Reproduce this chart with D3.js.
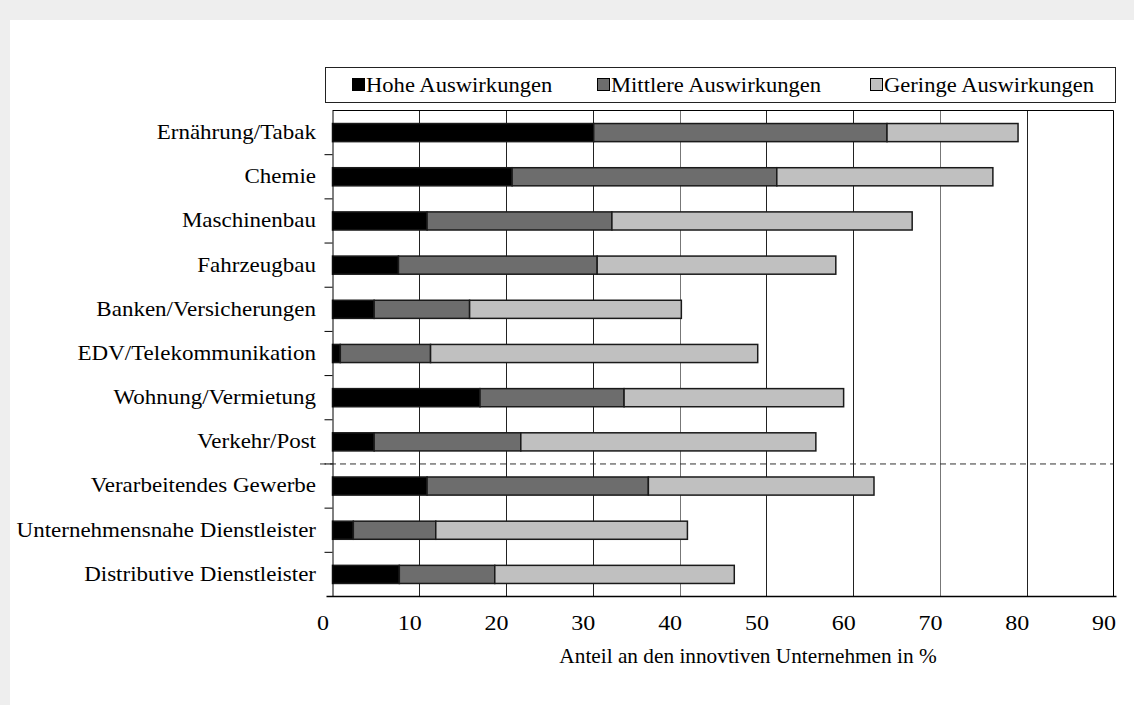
<!DOCTYPE html>
<html>
<head>
<meta charset="utf-8">
<script src="https://cdn.jsdelivr.net/npm/d3@7"></script>
<style>
  html, body { margin: 0; padding: 0; background: #eeeeee; }
  svg { display: block; }
  text { font-family: "Liberation Serif", "Times New Roman", serif; fill: #000; }
</style>
</head>
<body>
<svg id="chart" width="1134" height="705"></svg>
<script>
const categories = [
  "Ernährung/Tabak", "Chemie", "Maschinenbau", "Fahrzeugbau",
  "Banken/Versicherungen", "EDV/Telekommunikation", "Wohnung/Vermietung",
  "Verkehr/Post", "Verarbeitendes Gewerbe", "Unternehmensnahe Dienstleister",
  "Distributive Dienstleister"
];
const seriesNames = ["Hohe Auswirkungen", "Mittlere Auswirkungen", "Geringe Auswirkungen"];
const hohe     = [30.1, 20.7, 10.9, 7.6, 4.8, 0.9, 17.0, 4.8, 10.9, 2.4, 7.7];
const mittlere = [33.8, 30.5, 21.3, 22.9, 11.0, 10.4, 16.6, 16.9, 25.5, 9.5, 11.0];
const geringe  = [15.1, 24.9, 34.6, 27.5, 24.4, 37.7, 25.3, 34.0, 26.0, 29.0, 27.6];
const xTicks = [0, 10, 20, 30, 40, 50, 60, 70, 80, 90];
const xTitle = "Anteil an den innovtiven Unternehmen in %";
const colors = ["#000000", "#6d6d6d", "#c0c0c0"];

(function () {
const svg = d3.select("#chart");
svg.append("rect").attr("x", 10).attr("y", 20).attr("width", 1124).attr("height", 685).attr("fill", "#fff");

const pLeft = 332.5, pRight = 1113.5, pTop = 110.5, pBottom = 596.5;
const x = d3.scaleLinear().domain([0, 90]).range([pLeft, pRight]);
const y = d3.scaleBand().domain(categories).range([pTop, pBottom]).paddingInner(0.59).paddingOuter(0.295);

// gridlines
svg.append("g").selectAll("line").data(xTicks.filter(t => t > 0 && t < 90)).join("line")
  .attr("x1", d => Math.round(x(d)) + 0.5).attr("x2", d => Math.round(x(d)) + 0.5)
  .attr("y1", pTop).attr("y2", pBottom)
  .attr("stroke", d => (d === 40 || d === 70) ? "#777" : "#222").attr("stroke-width", 1);

// frame
svg.append("line").attr("x1", pLeft).attr("x2", pRight).attr("y1", pTop).attr("y2", pTop).attr("stroke", "#000");
svg.append("line").attr("x1", pRight).attr("x2", pRight).attr("y1", pTop).attr("y2", pBottom).attr("stroke", "#000");

// stacked data
const table = categories.map((c, i) => ({ cat: c, v: [hohe[i], mittlere[i], geringe[i]] }));
const rows = svg.append("g").selectAll("g").data(table).join("g");
rows.each(function(d) {
  let acc = 0;
  const segs = d.v.map((v, k) => { const s = { x0: acc, x1: acc + v, k: k }; acc += v; return s; });
  d3.select(this).selectAll("rect").data(segs).join("rect")
    .attr("x", s => x(s.x0))
    .attr("width", s => x(s.x1) - x(s.x0))
    .attr("y", y(d.cat))
    .attr("height", y.bandwidth())
    .attr("fill", s => colors[s.k])
    .attr("stroke", "#1a1a1a")
    .attr("stroke-width", 1.5);
});

// dashed separator between Verkehr/Post and Verarbeitendes Gewerbe
const step = y.step();
const sepY = y("Verarbeitendes Gewerbe") - (step - y.bandwidth()) / 2;
svg.append("line").attr("x1", 320).attr("x2", pRight).attr("y1", sepY).attr("y2", sepY)
  .attr("stroke", "#333").attr("stroke-dasharray", "6,4").attr("stroke-width", 1);

// y axis
const ySX = 1.15;
const yAxis = d3.axisLeft(y).tickSize(0).tickPadding(16);
const yg = svg.append("g").attr("transform", `translate(${pLeft},0)`).call(yAxis);
yg.select(".domain").attr("stroke", "#000");
yg.selectAll("text").attr("font-size", 20).attr("font-family", "Liberation Serif, serif")
  .attr("dy", "0.32em").attr("x", -16.5 / ySX).attr("transform", `scale(${ySX},1)`);
// boundary ticks on the y axis
const bounds = d3.range(categories.length + 1).map(i => pTop + i * step);
svg.append("g").selectAll("line").data(bounds.slice(1, -1)).join("line")
  .attr("x1", pLeft - 8).attr("x2", pLeft).attr("y1", d => d).attr("y2", d => d)
  .attr("stroke", "#000");

// x axis
const xSX = 1.2;
const xAxis = d3.axisBottom(x).tickValues(xTicks).tickSize(0).tickPadding(19);
const xg = svg.append("g").attr("transform", `translate(0,${pBottom})`).call(xAxis);
xg.select(".domain").remove();
svg.append("line").attr("x1", pLeft - 6).attr("x2", pRight + 3).attr("y1", pBottom).attr("y2", pBottom)
  .attr("stroke", "#000").attr("stroke-width", 1.5);
xg.selectAll("text").attr("font-size", 20).attr("font-family", "Liberation Serif, serif")
  .attr("x", -10 / xSX).attr("transform", `scale(${xSX},1)`);

svg.append("text").attr("transform", "translate(748,663) scale(1.065,1)").attr("text-anchor", "middle")
  .attr("font-size", 20).text(xTitle);

// legend
const lg = svg.append("g");
lg.append("rect").attr("x", 325.5).attr("y", 67.5).attr("width", 790).attr("height", 35)
  .attr("fill", "#fff").attr("stroke", "#222").attr("stroke-width", 1);
const legX = [352, 597, 870];
seriesNames.forEach((n, i) => {
  lg.append("rect").attr("x", legX[i] + 0.5).attr("y", 78.5).attr("width", 12).attr("height", 12)
    .attr("fill", colors[i]).attr("stroke", "#000").attr("stroke-width", 1);
  lg.append("text").attr("transform", `translate(${legX[i] + 14},92) scale(1.13,1)`)
    .attr("font-size", 20).text(n);
});
})();
</script>
</body>
</html>
